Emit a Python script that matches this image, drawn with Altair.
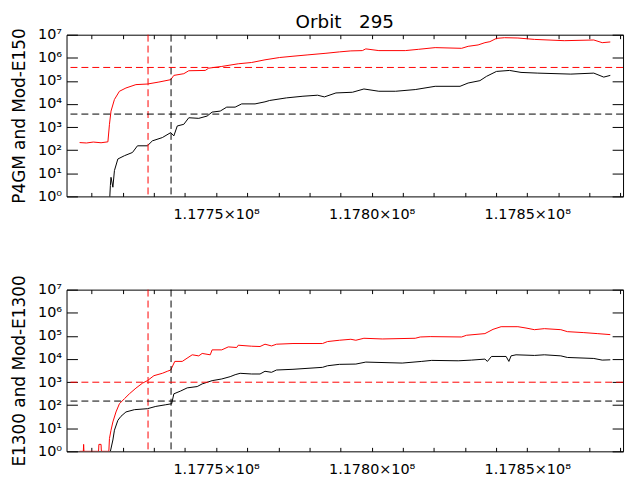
import altair as alt
import pandas as pd

# ---------------- data ----------------
top_red_x = [117706100, 117708300, 117710500, 117713000, 117715200, 117715700, 117716200, 117717300,
             117718900, 117721000, 117724200, 117727900, 117731600, 117735400, 117736400, 117739600,
             117741200, 117746500, 117747600, 117751800, 117757100, 117761400, 117765700, 117770400,
             117774700, 117779500, 117785300, 117789600, 117793300, 117797000, 117798100, 117802300,
             117810800, 117815100, 117820400, 117828900, 117831000, 117834200, 117836400, 117838000,
             117840100, 117842700, 117847000, 117852300, 117861900, 117871400, 117874100, 117876700]
top_red_y = [214, 205, 225, 210, 230, 1320, 4900, 15700,
             35500, 49300, 69000, 73200, 89300, 113000, 173000, 205000,
             275000, 284000, 356000, 422000, 550000, 626000, 817000, 1.03e6,
             1.17e6, 1.34e6, 1.57e6, 1.80e6, 1.99e6, 2.05e6, 2.43e6, 2.05e6,
             2.05e6, 2.33e6, 2.76e6, 2.57e6, 3.14e6, 3.60e6, 4.52e6, 4.99e6,
             6.92e6, 7.41e6, 7.19e6, 6.26e6, 5.51e6, 5.90e6, 4.52e6, 4.84e6]

top_black_x = [117715700, 117716000, 117716200, 117716800, 117717300, 117718400, 117720500, 117723100,
               117724700, 117727900, 117729500, 117732700, 117735400, 117736400, 117737500, 117739600,
               117741200, 117744400, 117747100, 117748700, 117751300, 117753400, 117756100, 117758200,
               117762500, 117765700, 117767200, 117772600, 117777900, 117782600, 117784800, 117788500,
               117793800, 117797500, 117802300, 117807700, 117814000, 117820400, 117828400, 117831000,
               117834800, 117836900, 117840100, 117844300, 117848000, 117853400, 117864000, 117871400,
               117874600, 117876700]
top_black_y = [0.5, 3, 6.7, 2.5, 13.1, 41.6, 57.6, 79.8,
               155, 155, 254, 352, 577, 416, 1120, 1320,
               2540, 2390, 3010, 4460, 4930, 7310, 7310, 10100,
               10100, 12400, 14200, 18400, 21700, 24000, 20300, 30100,
               32200, 44700, 35600, 35600, 42100, 58300, 58300, 80900,
               102500, 157000, 257000, 284000, 233000, 217000, 197000, 217000,
               146000, 173000]

bot_red_x = [117706100, 117707300, 117707400, 117707500, 117712200, 117712300, 117713000, 117713100,
             117715500, 117715700, 117716200, 117716800, 117717800, 117718900, 117720500, 117722100,
             117724200, 117726300, 117727900, 117730000, 117732700, 117734300, 117735400, 117736700,
             117739100, 117742300, 117744400, 117745500, 117748100, 117748700, 117751800, 117753900,
             117756600, 117757100, 117761400, 117764100, 117765700, 117767800, 117769400, 117774700,
             117784200, 117785800, 117789600, 117793300, 117794900, 117797500, 117803400, 117814000,
             117815600, 117818800, 117828900, 117830500, 117836400, 117839000, 117841600, 117847000,
             117849600, 117852300, 117855500, 117860800, 117862900, 117868200, 117872500, 117876700]
bot_red_y = [1, 1, 2, 1, 1, 2, 2, 1,
             1, 3.6, 8.2, 18.8, 50.7, 115, 189, 309,
             543, 891, 1150, 1890, 2390, 2920, 3320, 7830,
             7830, 15100, 13600, 17300, 15100, 24700, 24700, 33200,
             31300, 39300, 35600, 34500, 43400, 36600, 43400, 46500,
             46500, 56600, 64400, 71100, 64400, 78500, 73300, 78500,
             89300, 92600, 89300, 106000, 125000, 191000, 249000, 249000,
             218000, 185000, 205000, 185000, 152000, 138000, 125000, 113000]

bot_black_x = [117716000, 117716800, 117717300, 117718400, 117719400, 117721000, 117723700, 117727900,
               117730600, 117733800, 117735700, 117736400, 117738500, 117740700, 117743900, 117745500,
               117748700, 117751800, 117754500, 117756100, 117757700, 117761400, 117764100, 117765700,
               117767800, 117769400, 117774700, 117784200, 117785800, 117789600, 117794900, 117798100,
               117809800, 117816100, 117819300, 117827800, 117832100, 117836400, 117837200, 117838500,
               117843200, 117844100, 117844800, 117846400, 117852300, 117855500, 117860800, 117862900,
               117871400, 117874100, 117876700]
bot_black_y = [1, 3.1, 8.2, 22, 32.8, 50.7, 63.6, 70.2,
               88.1, 104, 115, 309, 404, 560, 637, 831,
               1150, 1360, 1710, 2080, 2390, 2230, 2230, 2920,
               2640, 3320, 3560, 4330, 5070, 5830, 6000, 7310,
               6630, 7830, 8650, 8320, 8910, 9840, 7830, 12800,
               12800, 7830, 13600, 15100, 14200, 15100, 13600, 11600,
               10500, 8910, 9180]

vline_x = [117728100, 117735500]
vline_c = ["#ff0000", "#000000"]
top_hline_y = [382000, 3660]
bot_hline_y = [984, 150]
hline_c = ["#ff0000", "#000000"]

x_domain = [117701900, 117880800]
x_tick_values = list(range(117710000, 117880001, 10000))
y_tick_values = [1, 10, 100, 1e3, 1e4, 1e5, 1e6, 1e7]

FONT = "DejaVu Sans"
SUP = "['\u2070','\u00b9','\u00b2','\u00b3','\u2074','\u2075','\u2076','\u2077','\u2078','\u2079']"
ylab = "'10' + " + SUP + "[round(log(datum.value)/LN10)]"
xlab = "datum.value % 50000 == 0 ? format(datum.value/1e8, '.4f') + '\u00d710\u2078' : ''"

XT = 4   # x tick length (inward)
YT = 11  # y tick length (inward)


def panel(rx, ry, bx, by, hy, ytitle, title=None):
    df = pd.DataFrame({
        "x": rx + bx,
        "y": ry + by,
        "c": ["#ff0000"] * len(rx) + ["#000000"] * len(bx),
    })
    vdf = pd.DataFrame({"x": vline_x, "c": vline_c})
    hdf = pd.DataFrame({"y": hy, "c": hline_c})
    xs = alt.Scale(domain=x_domain, nice=False, zero=False)
    ys = alt.Scale(type="log", domain=[1, 1e7], nice=False)

    lines = alt.Chart(df).mark_line(strokeWidth=1, clip=True).encode(
        x=alt.X("x:Q", scale=xs, axis=alt.Axis(
            orient="bottom", values=x_tick_values, labelExpr=xlab, tickSize=XT, offset=-XT,
            domain=False, grid=False, labelOverlap=False, labelFlush=False, labelPadding=11,
            title=None)),
        y=alt.Y("y:Q", scale=ys, axis=alt.Axis(
            orient="left", values=y_tick_values, labelExpr=ylab, tickSize=YT, offset=-YT,
            domain=False, grid=False, labelOverlap=False, labelFlush=False, labelPadding=5,
            title=ytitle, titlePadding=9)),
        color=alt.Color("c:N", scale=None),
    )
    vr = alt.Chart(vdf).mark_rule(strokeDash=[7, 4], strokeWidth=1).encode(
        x=alt.X("x:Q", scale=xs, axis=alt.Axis(
            orient="top", values=x_tick_values, labels=False, tickSize=XT, offset=-XT,
            domain=False, grid=False, title=None)),
        color=alt.Color("c:N", scale=None),
    )
    hr = alt.Chart(hdf).mark_rule(strokeDash=[7, 4], strokeWidth=1).encode(
        y=alt.Y("y:Q", scale=ys, axis=alt.Axis(
            orient="right", values=y_tick_values, labels=False, tickSize=YT, offset=-YT,
            domain=False, grid=False, title=None)),
        color=alt.Color("c:N", scale=None),
    )
    props = dict(width=561, height=163)
    if title is not None:
        props["title"] = alt.TitleParams(title, fontSize=18.5, fontWeight="normal", anchor="middle",
                                         font=FONT, color="#000000", offset=-5)
    return alt.layer(lines, vr, hr).resolve_axis(x="independent", y="independent").properties(**props)


top = panel(top_red_x, top_red_y, top_black_x, top_black_y, top_hline_y,
            "P4GM and Mod-E150", "Orbit\u00a0\u00a0\u00a0295")
bot = panel(bot_red_x, bot_red_y, bot_black_x, bot_black_y, bot_hline_y,
            "E1300 and Mod-E1300")

chart = alt.vconcat(top, bot, spacing=53).properties(
    padding={"left": 2, "top": 3, "right": 5, "bottom": 5}
).configure(
    font=FONT, background="#ffffff"
).configure_view(
    stroke="#000000", strokeWidth=1
).configure_axis(
    labelFont=FONT, labelFontSize=14.5, labelColor="#000000",
    titleFont=FONT, titleFontSize=17, titleFontWeight="normal", titleColor="#000000",
    tickColor="#000000", tickWidth=1,
)

chart.save("out.html", embed_options={"renderer": "svg", "actions": False})
